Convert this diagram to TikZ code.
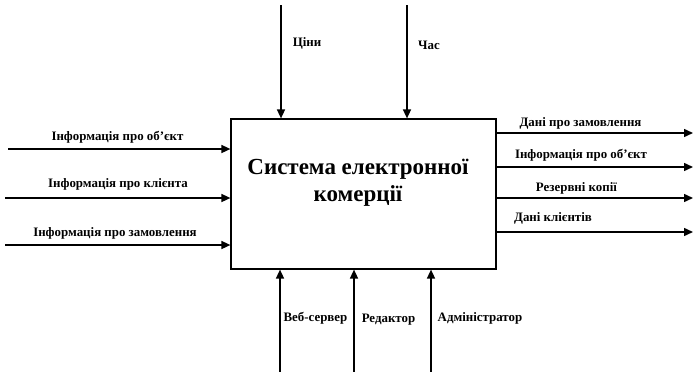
\documentclass[tikz,border=0pt]{standalone}
\usepackage{fontspec}
\setmainfont{Liberation Serif}
\usetikzlibrary{arrows.meta}
\begin{document}
\begin{tikzpicture}[x=1pt,y=-1pt,
  flow/.style={line width=1.5pt,-{Triangle[length=9pt,width=8pt]}},
  lbl/.style={font=\bfseries\fontsize{12.9}{14}\selectfont,inner sep=0pt},
  ttl/.style={font=\bfseries\fontsize{23}{27}\selectfont,align=center,inner sep=0pt}]
\useasboundingbox (0,0) rectangle (694,372);
\node[draw,line width=1.2pt,minimum width=265pt,minimum height=150pt,inner sep=0pt] (sys) at (363.5,194) {};
\node[ttl] (title) at (358,183) {Система електронної\\комерції};
% controls (top)
\coordinate (c1) at (281,5);
\coordinate (c2) at (407,5);
\draw[flow] (c1) -- (c1 |- sys.north);
\draw[flow] (c2) -- (c2 |- sys.north);
\node[lbl] (lc1) at (307,43) {Ціни};
\node[lbl] (lc2) at (429,45) {Час};
% mechanisms (bottom)
\coordinate (m1) at (280,372);
\coordinate (m2) at (354,372);
\coordinate (m3) at (431,372);
\draw[flow] (m1) -- (m1 |- sys.south);
\draw[flow] (m2) -- (m2 |- sys.south);
\draw[flow] (m3) -- (m3 |- sys.south);
\node[lbl] (lm1) at (315.5,318) {Веб-сервер};
\node[lbl] (lm2) at (388.5,320) {Редактор};
\node[lbl] (lm3) at (480,318) {Адміністратор};
% inputs (left)
\coordinate (i1) at (8,149);
\coordinate (i2) at (5,198);
\coordinate (i3) at (5,245);
\draw[flow] (i1) -- (i1 -| sys.west);
\draw[flow] (i2) -- (i2 -| sys.west);
\draw[flow] (i3) -- (i3 -| sys.west);
\node[lbl] (li1) at (117.5,137) {Інформація про об'єкт};
\node[lbl] (li2) at (118,184) {Інформація про клієнта};
\node[lbl] (li3) at (115,233) {Інформація про замовлення};
% outputs (right)
\coordinate (o1) at (693,133);
\coordinate (o2) at (693,167);
\coordinate (o3) at (693,198);
\coordinate (o4) at (693,232);
\draw[flow] (o1 -| sys.east) -- (o1);
\draw[flow] (o2 -| sys.east) -- (o2);
\draw[flow] (o3 -| sys.east) -- (o3);
\draw[flow] (o4 -| sys.east) -- (o4);
\node[lbl] (lo1) at (580.5,123) {Дані про замовлення};
\node[lbl] (lo2) at (581,155) {Інформація про об'єкт};
\node[lbl] (lo3) at (576.5,188) {Резервні копії};
\node[lbl] (lo4) at (553,218) {Дані клієнтів};
\end{tikzpicture}
\end{document}
